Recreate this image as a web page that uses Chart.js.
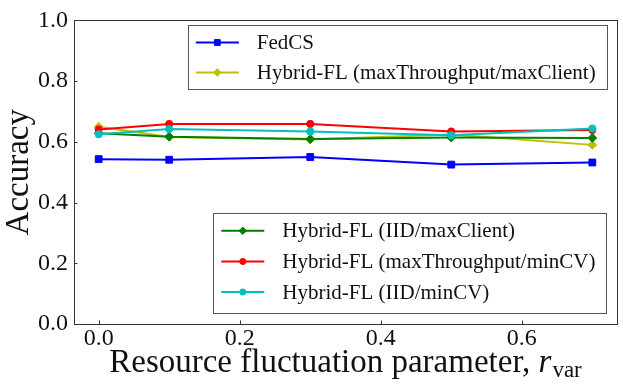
<!DOCTYPE html>
<html><head><meta charset="utf-8">
<script src="https://cdn.jsdelivr.net/npm/chart.js@4.4.0/dist/chart.umd.min.js"></script>
<style>html,body{margin:0;padding:0;background:#fff;} canvas{display:block;}</style>
</head><body>
<canvas id="c" width="623" height="390"></canvas>
<script>
// ---- data ----
const xValues = [0.0, 0.1, 0.3, 0.5, 0.7];
const fedcsAcc          = [0.543, 0.541, 0.550, 0.525, 0.532];
const tputMaxClientAcc  = [0.650, 0.616, 0.608, 0.624, 0.590];
const iidMaxClientAcc   = [0.628, 0.617, 0.609, 0.614, 0.613];
const tputMinCVAcc      = [0.641, 0.659, 0.659, 0.634, 0.639];
const iidMinCVAcc       = [0.625, 0.642, 0.634, 0.622, 0.644];
const seriesNames = [
  'FedCS',
  'Hybrid-FL (maxThroughput/maxClient)',
  'Hybrid-FL (IID/maxClient)',
  'Hybrid-FL (maxThroughput/minCV)',
  'Hybrid-FL (IID/minCV)'
];
const xTickValues = [0.0, 0.2, 0.4, 0.6];
const yTickValues = [0.0, 0.2, 0.4, 0.6, 0.8, 1.0];
const xTitle = 'Resource fluctuation parameter, ';
const yTitle = 'Accuracy';

// ---- styles ----
const FONT = '"Liberation Serif", "Times New Roman", serif';
const styles = [
  {color:'#0000ff', style:'rect', r:4.8},
  {color:'#bfbf00', style:'rectRot', r:4.4},
  {color:'#008000', style:'rectRot', r:4.4},
  {color:'#ff0000', style:'circle', r:3.6},
  {color:'#00bfbf', style:'circle', r:3.6}
];
const allSeries = [fedcsAcc, tputMaxClientAcc, iidMaxClientAcc, tputMinCVAcc, iidMinCVAcc];

const datasets = allSeries.map((vals, i) => ({
  label: seriesNames[i],
  data: vals.map((v, k) => ({x: xValues[k], y: v})),
  borderColor: styles[i].color,
  backgroundColor: styles[i].color,
  pointBackgroundColor: styles[i].color,
  pointBorderColor: styles[i].color,
  pointStyle: styles[i].style,
  pointRadius: styles[i].r,
  pointBorderWidth: 1,
  borderWidth: 2,
  tension: 0,
  order: allSeries.length - i
}));

function drawMarker(ctx, style, r, x, y, color) {
  ctx.save();
  ctx.fillStyle = color; ctx.strokeStyle = color; ctx.lineWidth = 1;
  ctx.beginPath();
  if (style === 'circle') {
    ctx.arc(x, y, r, 0, Math.PI * 2);
  } else if (style === 'rect') {
    const s = r * Math.SQRT1_2;
    ctx.rect(x - s, y - s, 2 * s, 2 * s);
  } else {
    ctx.moveTo(x, y - r); ctx.lineTo(x + r, y); ctx.lineTo(x, y + r); ctx.lineTo(x - r, y); ctx.closePath();
  }
  ctx.fill(); ctx.stroke();
  ctx.restore();
}

const legendGroups = [
  {items:[0,1], right:606.7, top:25, bottom:88.5, rows:[42.5, 72.5]},
  {items:[2,3,4], right:606.5, top:213.3, bottom:313.7, rows:[230.8, 261.5, 292.0]}
];

const decor = {
  id: 'decor',
  afterDraw(chart) {
    const ctx = chart.ctx;
    const a = chart.chartArea;
    const xs = chart.scales.x, ys = chart.scales.y;
    ctx.save();
    // spines
    ctx.strokeStyle = '#333'; ctx.lineWidth = 1;
    ctx.strokeRect(Math.round(a.left) + 0.5, Math.round(a.top) + 0.5,
                   Math.round(a.right - a.left), Math.round(a.bottom - a.top));
    // inward ticks
    ctx.beginPath();
    xTickValues.forEach(v => {
      const px = Math.round(xs.getPixelForValue(v)) + 0.5;
      ctx.moveTo(px, a.bottom); ctx.lineTo(px, a.bottom - 3.5);
    });
    yTickValues.forEach(v => {
      const py = Math.round(ys.getPixelForValue(v)) + 0.5;
      ctx.moveTo(a.left, py); ctx.lineTo(a.left + 3.5, py);
    });
    ctx.stroke();

    // legends
    ctx.font = '21px ' + FONT;
    ctx.textBaseline = 'middle';
    ctx.textAlign = 'left';
    legendGroups.forEach(g => {
      let maxW = 0;
      g.items.forEach(i => { maxW = Math.max(maxW, ctx.measureText(seriesNames[i]).width); });
      const left = g.right - (8 + 43 + 18 + maxW + 11);
      ctx.fillStyle = '#fff';
      ctx.fillRect(left, g.top, g.right - left, g.bottom - g.top);
      ctx.strokeStyle = '#555'; ctx.lineWidth = 1;
      ctx.strokeRect(Math.round(left) + 0.5, Math.round(g.top) + 0.5,
                     Math.round(g.right - left), Math.round(g.bottom - g.top));
      g.items.forEach((i, k) => {
        const y = g.rows[k];
        const lx = left + 8;
        ctx.strokeStyle = styles[i].color; ctx.lineWidth = 2;
        ctx.beginPath(); ctx.moveTo(lx, y); ctx.lineTo(lx + 43, y); ctx.stroke();
        drawMarker(ctx, styles[i].style, styles[i].r * 0.85, lx + 21.5, y, styles[i].color);
        ctx.fillStyle = '#111';
        ctx.fillText(seriesNames[i], lx + 43 + 18, y + 1);
      });
    });

    // x title with italic r and subscript var
    ctx.fillStyle = '#111';
    ctx.textBaseline = 'alphabetic';
    const f1 = '33px ' + FONT, f2 = 'italic 33px ' + FONT, f3 = '23px ' + FONT;
    ctx.font = f1; const w1 = ctx.measureText(xTitle).width;
    ctx.font = f2; const w2 = ctx.measureText('r').width;
    ctx.font = f3; const w3 = ctx.measureText('var').width;
    const total = w1 + w2 + 1 + w3;
    let sx = (a.left + a.right) / 2 - total / 2;
    const by = 371.5;
    ctx.textAlign = 'left';
    ctx.font = f1; ctx.fillText(xTitle, sx, by); sx += w1;
    ctx.font = f2; ctx.fillText('r', sx, by); sx += w2 + 1;
    ctx.font = f3; ctx.fillText('var', sx, by + 5);

    // y title
    ctx.save();
    ctx.translate(28, (a.top + a.bottom) / 2);
    ctx.rotate(-Math.PI / 2);
    ctx.font = '33px ' + FONT;
    ctx.textAlign = 'center';
    ctx.fillText(yTitle, 0, 0);
    ctx.restore();
    ctx.restore();
  }
};

new Chart(document.getElementById('c'), {
  type: 'line',
  data: { datasets },
  options: {
    responsive: false,
    animation: false,
    devicePixelRatio: 1,
    layout: { padding: { top: 15, right: 6, left: 0, bottom: 0 } },
    plugins: { legend: { display: false }, tooltip: { enabled: false } },
    scales: {
      x: {
        type: 'linear', min: -0.035, max: 0.735,
        afterBuildTicks: s => { s.ticks = xTickValues.map(v => ({value: v})); },
        afterFit: s => { s.height = 66; },
        grid: { display: false, drawTicks: false, tickLength: 0 },
        border: { display: false },
        ticks: { font: { family: FONT, size: 24 }, color: '#111', padding: 0,
                 maxRotation: 0, autoSkip: false,
                 callback: v => Number(v).toFixed(1) }
      },
      y: {
        type: 'linear', min: 0, max: 1,
        afterBuildTicks: s => { s.ticks = yTickValues.map(v => ({value: v})); },
        afterFit: s => { s.width = 74; },
        grid: { display: false, drawTicks: false, tickLength: 0 },
        border: { display: false },
        ticks: { font: { family: FONT, size: 24 }, color: '#111', padding: 6,
                 callback: v => Number(v).toFixed(1) }
      }
    }
  },
  plugins: [decor]
});
</script>
</body></html>
